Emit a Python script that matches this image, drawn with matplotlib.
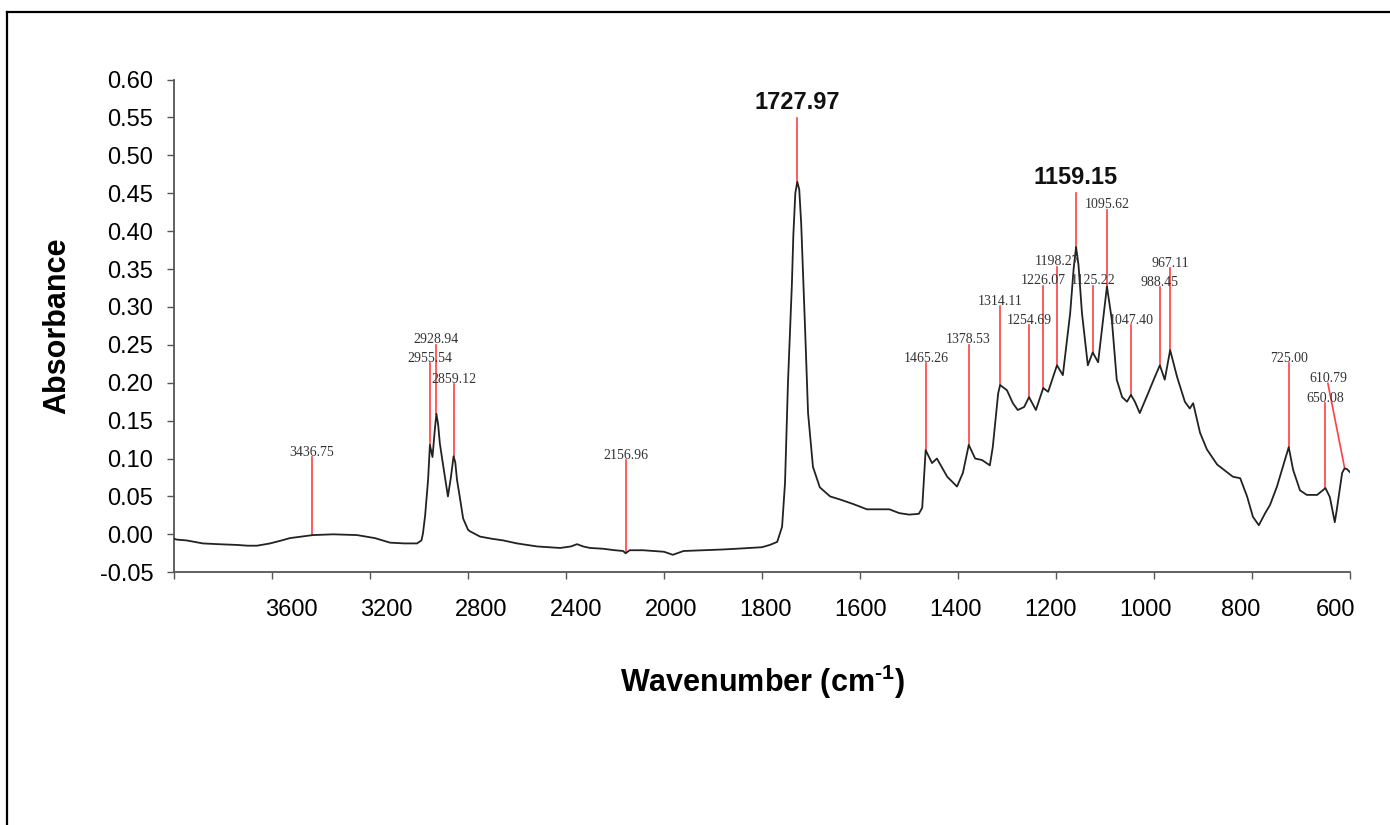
"""FTIR spectrum with labelled peaks (Excel-like layout)."""

import numpy as np
import matplotlib
matplotlib.use("Agg")
import matplotlib.pyplot as plt
from matplotlib.lines import Line2D
from matplotlib.transforms import ScaledTranslation

plt.rcParams["axes.unicode_minus"] = False
plt.rcParams["mathtext.fontset"] = "custom"
plt.rcParams["mathtext.rm"] = "Liberation Sans:bold"

# spectrum (wavenumber cm-1, absorbance)
wavenumber = [
    4000, 3988, 3950, 3882, 3820, 3743, 3700, 3661, 3608, 3560, 3527, 3480,
    3433, 3350, 3253, 3180, 3118, 3060, 3008, 2990, 2984, 2975, 2963, 2955.5,
    2945, 2935, 2929, 2922, 2915, 2902, 2882, 2870, 2859, 2852, 2845, 2833,
    2820, 2800, 2792, 2751, 2700, 2657, 2600, 2518, 2424, 2380, 2355, 2330,
    2302, 2250, 2200, 2167, 2157, 2140, 2086, 2040, 2000, 1982, 1960, 1920,
    1880, 1851, 1800, 1784, 1769, 1759, 1753, 1747, 1739, 1736, 1732, 1728,
    1724, 1720, 1716, 1712, 1706, 1696, 1682, 1661, 1641, 1614, 1586, 1559,
    1540, 1520, 1500, 1480, 1473, 1466, 1453, 1443, 1422, 1402, 1390, 1378,
    1365, 1351, 1335, 1329, 1318, 1314, 1300, 1288, 1278, 1265, 1255, 1241,
    1226, 1216, 1198, 1186, 1171, 1164, 1159, 1154, 1147, 1135, 1125, 1114,
    1104, 1096, 1086, 1076, 1065, 1055, 1047, 1039, 1029, 1012, 998, 988,
    978, 967, 953, 937, 927, 920, 906, 892, 871, 851, 839, 824,
    810, 798, 786, 773, 763, 749, 737, 725, 716, 702, 688, 667,
    650, 641, 631, 627, 616, 611, 606, 600,
]
absorbance = [
    -0.006, -0.007, -0.008, -0.012, -0.013, -0.014, -0.015, -0.015, -0.012, -0.008, -0.005, -0.003,
    -0.001, 0.000, -0.001, -0.005, -0.011, -0.012, -0.012, -0.008, 0.001, 0.025, 0.072, 0.118,
    0.102, 0.140, 0.159, 0.145, 0.120, 0.092, 0.050, 0.075, 0.103, 0.095, 0.072, 0.048,
    0.021, 0.006, 0.004, -0.003, -0.006, -0.008, -0.012, -0.016, -0.018, -0.016, -0.013, -0.016,
    -0.018, -0.019, -0.021, -0.022, -0.025, -0.021, -0.021, -0.022, -0.023, -0.027, -0.022, -0.021,
    -0.020, -0.019, -0.017, -0.014, -0.010, 0.010, 0.068, 0.200, 0.330, 0.395, 0.450, 0.465,
    0.455, 0.410, 0.340, 0.270, 0.160, 0.089, 0.062, 0.050, 0.046, 0.040, 0.033, 0.033,
    0.033, 0.028, 0.026, 0.027, 0.035, 0.111, 0.094, 0.100, 0.076, 0.063, 0.081, 0.118,
    0.100, 0.098, 0.091, 0.115, 0.186, 0.197, 0.190, 0.173, 0.164, 0.168, 0.181, 0.164,
    0.193, 0.188, 0.223, 0.210, 0.292, 0.350, 0.379, 0.355, 0.292, 0.223, 0.240, 0.227,
    0.283, 0.327, 0.283, 0.204, 0.181, 0.175, 0.184, 0.175, 0.160, 0.186, 0.208, 0.223,
    0.204, 0.243, 0.208, 0.175, 0.166, 0.173, 0.134, 0.112, 0.092, 0.082, 0.076, 0.074,
    0.050, 0.023, 0.012, 0.028, 0.039, 0.063, 0.089, 0.115, 0.085, 0.058, 0.052, 0.052,
    0.061, 0.049, 0.016, 0.032, 0.081, 0.087, 0.086, 0.082,
]

# peak annotations
peak_wn = [3436.75, 2955.54, 2928.94, 2859.12, 2156.96, 1727.97, 1465.26,
           1378.53, 1314.11, 1254.69, 1226.07, 1198.27, 1159.15, 1125.22,
           1095.62, 1047.40, 988.45, 967.11, 725.00, 650.08, 610.79]
peak_major = [1727.97, 1159.15]

# where each label sits (top of the red leader)
label_top = [0.102, 0.226, 0.250, 0.198, 0.098, 0.549, 0.226,
             0.250, 0.301, 0.276, 0.328, 0.353, 0.450, 0.328,
             0.428, 0.276, 0.326, 0.351, 0.226, 0.173, 0.199]
label_x = list(peak_wn)
label_x[-1] = 645.0  # 610.79 label pushed left, slanted leader

x_ticks = [4000, 3600, 3200, 2800, 2400, 2000, 1800, 1600, 1400, 1200, 1000, 800, 600]
x_ticklabels = [""] + [str(t) for t in x_ticks[1:]]
y_ticks = np.arange(-0.05, 0.601, 0.05)

# the original's tick labels drift off their ticks (pixels, left to right)
label_drift_px = [0, 19, 16, 13, 10, 7, 4, 1, -2, -5, -8, -11, -14]


def fwd(w):
    w = np.asarray(w, dtype=float)
    return np.where(w > 2000, 2000 + (w - 2000) / 2.0, w)


def inv(u):
    u = np.asarray(u, dtype=float)
    return np.where(u > 2000, 2000 + (u - 2000) * 2.0, u)


def plotar(img_path="out.png"):
    fig = plt.figure(figsize=(13.9, 8.25), dpi=100)
    ax = fig.add_axes([0.1252, 0.3064, 0.846, 0.5972])

    ax.set_xscale("function", functions=(fwd, inv))
    ax.plot(wavenumber, absorbance, color="#222222", lw=1.3, zorder=3)

    # red leaders + labels
    wn_inc = np.array(wavenumber)[::-1]
    ab_inc = np.array(absorbance)[::-1]
    for wn, lx, top in zip(peak_wn, label_x, label_top):
        base = np.interp(wn, wn_inc, ab_inc)
        ax.plot([wn, lx], [base, top], color="#ff4040", lw=1.2, zorder=2)
        if wn in peak_major:
            ax.text(lx, top + 0.006, f"{wn:.2f}", ha="center", va="bottom",
                    fontsize=17, fontweight="bold", family="Liberation Sans",
                    color="#111111")
        else:
            ax.text(lx, top - 0.002, f"{wn:.2f}", ha="center", va="bottom",
                    fontsize=10, family="Liberation Serif", color="#333333")

    ax.set_xlim(4000, 600)
    ax.set_ylim(-0.05, 0.60)
    ax.set_xticks(x_ticks)
    ax.set_xticklabels(x_ticklabels)
    ax.set_yticks(y_ticks)
    ax.set_yticklabels([f"{v:.2f}" for v in y_ticks])
    ax.xaxis.set_minor_locator(plt.NullLocator())

    for s in ("top", "right"):
        ax.spines[s].set_visible(False)
    for s in ("left", "bottom"):
        ax.spines[s].set_color("#555555")
        ax.spines[s].set_linewidth(1.3)
    ax.tick_params(axis="both", direction="out", length=5, width=1,
                   color="#555555", labelsize=17, labelcolor="black")
    ax.tick_params(axis="x", pad=14)
    ax.tick_params(axis="y", pad=10)
    for lab in ax.get_xticklabels() + ax.get_yticklabels():
        lab.set_family("Liberation Sans")
    for lab, dx in zip(ax.get_xticklabels(), label_drift_px):
        lab.set_transform(lab.get_transform()
                          + ScaledTranslation(dx / 100, 0, fig.dpi_scale_trans))

    ax.set_xlabel("Wavenumber (cm$^{\\text{-1}}$)", fontsize=22,
                  fontweight="bold", family="Liberation Sans", labelpad=30)
    ax.set_ylabel("Absorbance", fontsize=22, fontweight="bold",
                  family="Liberation Sans", labelpad=20)

    # chart frame
    fig.add_artist(Line2D([7 / 1390, 1.0], [1 - 12 / 825, 1 - 12 / 825],
                          transform=fig.transFigure, color="black", lw=1.6))
    fig.add_artist(Line2D([7 / 1390, 7 / 1390], [0.0, 1 - 12 / 825],
                          transform=fig.transFigure, color="black", lw=1.6))

    fig.savefig(img_path, dpi=100)
    plt.close(fig)


if __name__ == "__main__":
    plotar()
